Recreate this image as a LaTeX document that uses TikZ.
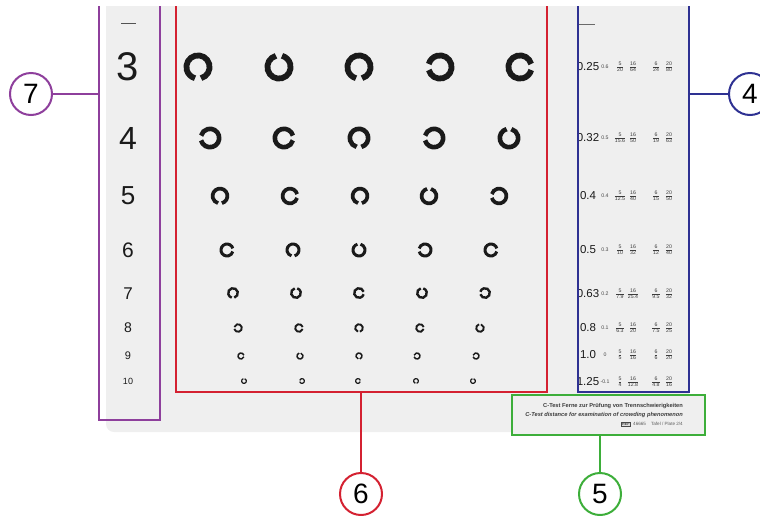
\documentclass[tikz,border=0pt]{standalone}
\usepackage{fontspec}
\setmainfont{Liberation Sans}
\definecolor{cpurple}{HTML}{8E3F9C}
\definecolor{cred}{HTML}{D42131}
\definecolor{cblue}{HTML}{2E3192}
\definecolor{cgreen}{HTML}{3DAE3A}
\definecolor{chart}{HTML}{EFEFEF}
\definecolor{ink}{HTML}{1A1A1A}
\newcommand{\lcring}[4]{%
  \pgfmathsetmacro\lcr{0.4*#3}\pgfmathsetmacro\lcw{0.2*#3}%
  \draw[ink,line width=\lcw pt,line cap=butt] ([shift={(#4+15:\lcr)}]#1,-#2) arc[start angle=#4+15, end angle=#4+345, radius=\lcr];}
\setlength{\arrayrulewidth}{0.3pt}
\newcommand{\fr}[2]{\begin{tabular}{@{}c@{}}\rule[-0.9pt]{0pt}{4.6pt}#1\\\hline\rule[-0.6pt]{0pt}{4.8pt}#2\end{tabular}}
\tikzset{
  callout/.style={circle, draw=#1, line width=2pt, fill=white, minimum size=42pt, inner sep=0pt, font=\fontsize{28}{28}\selectfont},
  lead/.style={draw=#1, line width=2pt},
  frac/.style={font=\fontsize{5.2}{5.2}\selectfont, text=ink!85, inner sep=0pt},
}
\begin{document}
\begin{tikzpicture}[x=1pt,y=1pt]
\useasboundingbox (0,0) rectangle (760,-515);
% chart background
\fill[chart] (106,-6) [rounded corners=8pt] -- (106,-432) -- (689,-432) [sharp corners] -- (689,-6) -- cycle;
\fill[chart] (512,-395) rectangle (705,-435);
% dashes
\draw[ink!75, line width=1pt] (121,-23) -- (136,-23);
\draw[ink!65, line width=1pt] (579,-24) -- (595,-24);
% left digits
\foreach \t/\y/\s in {3/67/40, 4/138/32, 5/196/26, 6/250/21, 7/294/17, 8/328/14, 9/356/11, 10/381/9}
  \node[ink, inner sep=0pt, font=\fontsize{\s}{\s}\selectfont] at (128,-\y) {\t};
% Landolt rings
\foreach \x/\g in {198/270, 279/90, 359/270, 440/180, 520/0} {\lcring{\x}{67}{29}{\g}}
\foreach \x/\g in {210/180, 284/0, 359/270, 434/180, 509/90} {\lcring{\x}{138}{23}{\g}}
\foreach \x/\g in {220/270, 290/0, 360/270, 429/90, 499/180} {\lcring{\x}{196}{18.5}{\g}}
\foreach \x/\g in {227/0, 293/270, 359/90, 425/180, 491/0} {\lcring{\x}{250}{15}{\g}}
\foreach \x/\g in {233/270, 296/90, 359/0, 422/90, 485/180} {\lcring{\x}{293}{12}{\g}}
\foreach \x/\g in {238/180, 299/0, 359/270, 420/0, 480/90} {\lcring{\x}{328}{9.5}{\g}}
\foreach \x/\g in {241/0, 300/90, 359/270, 417/180, 476/180} {\lcring{\x}{356}{7.5}{\g}}
\foreach \x/\g in {244/90, 302/180, 358/0, 416/270, 473/90} {\lcring{\x}{381}{6}{\g}}
% right column
\foreach \y/\a/\b/\na/\da/\nb/\db/\nc/\dc/\nd/\dd in {
  67/0.25/0.6/5/20/16/64/6/24/20/80,
  138/0.32/0.5/5/15.6/16/50/6/19/20/63,
  196/0.4/0.4/5/12.5/16/40/6/15/20/50,
  250/0.5/0.3/5/10/16/32/6/12/20/40,
  294/0.63/0.2/5/7.9/16/25.4/6/9.5/20/32,
  328/0.8/0.1/5/6.3/16/20/6/7.5/20/25,
  355/1.0/0/5/5/16/16/6/6/20/20,
  382/1.25/-0.1/5/4/16/12.8/6/4.8/20/16} {
  \node[ink, inner sep=0pt, font=\fontsize{11.5}{11.5}\selectfont] at (588,-\y) {\a};
  \node[ink!80, inner sep=0pt, font=\fontsize{5.2}{5.2}\selectfont] at (605,-\y) {\b};
  \node[frac] at (620,-\y) {\fr{\na}{\da}};
  \node[frac] at (633,-\y) {\fr{\nb}{\db}};
  \node[frac] at (656,-\y) {\fr{\nc}{\dc}};
  \node[frac] at (669,-\y) {\fr{\nd}{\dd}};
}
% green box texts
\node[anchor=east, inner sep=0pt, text=ink!85, font=\fontsize{5.7}{6}\selectfont\bfseries] at (683,-406) {C-Test Ferne zur Prüfung von Trennschwierigkeiten};
\node[anchor=east, inner sep=0pt, text=ink!85, font=\fontsize{5.7}{6}\selectfont\bfseries\itshape] at (683,-415) {C-Test distance for examination of crowding phenomenon};
\node[anchor=east, inner sep=0pt, text=ink!70, font=\fontsize{4.6}{5}\selectfont] (plate) at (683,-424) {Tafel / Plate 2/4};
\node[anchor=west, inner sep=0pt, text=ink!70, font=\fontsize{4.6}{5}\selectfont] (refno) at (633,-424) {46665};
\node[anchor=east, draw=ink!80, line width=0.4pt, fill=ink!15, inner sep=0.6pt, text=ink!80, font=\fontsize{3.8}{4}\selectfont\bfseries] (ref) at (630.5,-424) {REF};
% boxes
\draw[lead=cpurple] (99,-6) -- (99,-420) -- (160,-420) -- (160,-6);
\draw[lead=cred] (176,-6) -- (176,-392) -- (547,-392) -- (547,-6);
\draw[lead=cblue] (578,-6) -- (578,-392) -- (689,-392) -- (689,-6);
\draw[lead=cgreen] (512,-395) rectangle (705,-435);
\coordinate (p7) at (99,-94);
\coordinate (p6) at (361,-392);
\coordinate (p4) at (689,-94);
\coordinate (p5) at (600,-435);
% callouts
\node[callout=cpurple] (c7) at (31,-94) {7};
\node[callout=cred] (c6) at (361,-494) {6};
\node[callout=cblue] (c4) at (750,-94) {4};
\node[callout=cgreen] (c5) at (600,-494) {5};
\draw[lead=cpurple] (c7) -- (p7);
\draw[lead=cred] (c6) -- (p6);
\draw[lead=cblue] (c4) -- (p4);
\draw[lead=cgreen] (c5) -- (p5);
\end{tikzpicture}
\end{document}
